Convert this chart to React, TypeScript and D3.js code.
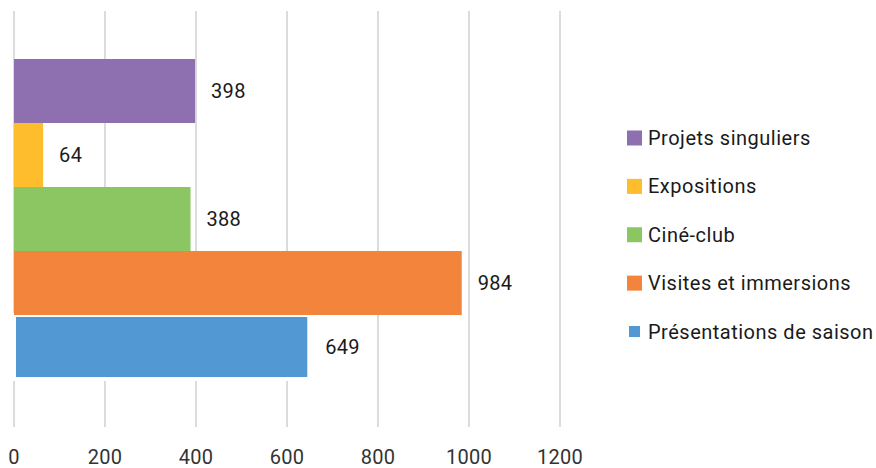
import React from "react";
import * as d3 from "d3";

const categories = [
  "Projets singuliers",
  "Expositions",
  "Ciné-club",
  "Visites et immersions",
  "Présentations de saison",
];
const values = [398, 64, 388, 984, 649];
const colors = ["#8e70b1", "#fdbd2c", "#8bc662", "#f2843c", "#5298d2"];
const ticks = [0, 200, 400, 600, 800, 1000, 1200];

const W = 876;
const H = 468;
const FONT = "Roboto, 'DejaVu Sans', sans-serif";

export default function App() {
  const x = d3.scaleLinear().domain([0, 1200]).range([14, 560]);
  const y = d3
    .scaleBand<string>()
    .domain(categories)
    .range([11, 427])
    .paddingInner(0)
    .paddingOuter(0.75);
  const legendY = d3
    .scalePoint<string>()
    .domain(categories)
    .range([138, 331.5]);

  const order = categories.map((_, i) => i).reverse();

  return (
    <svg
      width={W}
      height={H}
      style={{ position: "absolute", left: 0, top: 0, background: "#fff" }}
      fontFamily={FONT}
    >
      {ticks.map((t) => (
        <line
          key={"g" + t}
          x1={x(t)}
          x2={x(t)}
          y1={11}
          y2={427}
          stroke="#d0d0d0"
          strokeWidth={1.5}
        />
      ))}
      {order.map((i) => {
        const c = categories[i];
        const isLast = i === categories.length - 1;
        return (
          <rect
            key={"b" + c}
            x={x(0)}
            y={y(c)!}
            width={x(values[i]) - x(0)}
            height={y.bandwidth()}
            fill={colors[i]}
            stroke={isLast ? "#fff" : "none"}
            strokeWidth={isLast ? 4 : 0}
          />
        );
      })}
      {categories.map((c, i) => (
        <text
          key={"l" + c}
          x={x(values[i]) + 16}
          y={y(c)! + y.bandwidth() / 2}
          dy="0.35em"
          fontSize={20}
          letterSpacing={0.3}
          fill="#1a1a1a"
        >
          {values[i]}
        </text>
      ))}
      {ticks.map((t) => (
        <text
          key={"t" + t}
          x={x(t)}
          y={457}
          dy="0.35em"
          textAnchor="middle"
          fontSize={20}
          letterSpacing={0.3}
          fill="#333"
        >
          {t}
        </text>
      ))}
      {categories.map((c, i) => {
        const isLast = i === categories.length - 1;
        const cy = legendY(c)!;
        return (
          <g key={"lg" + c}>
            <rect
              x={627}
              y={cy - 7.5}
              width={15}
              height={15}
              fill={colors[i]}
              stroke={isLast ? "#fff" : "none"}
              strokeWidth={isLast ? 4 : 0}
            />
            <text
              x={648}
              y={cy}
              dy="0.35em"
              fontSize={20}
              letterSpacing={0.5}
              fill="#1a1a1a"
            >
              {c}
            </text>
          </g>
        );
      })}
    </svg>
  );
}
